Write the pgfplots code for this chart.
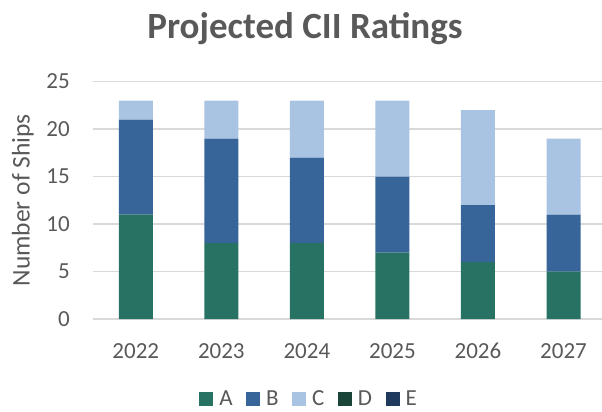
\documentclass[border=0pt]{standalone}
\usepackage{fontspec}
\setmainfont{Carlito}
\usepackage{pgfplots}
\pgfplotsset{compat=1.18}
\definecolor{cA}{HTML}{277263}
\definecolor{cB}{HTML}{376499}
\definecolor{cC}{HTML}{A9C3E3}
\definecolor{cD}{HTML}{1B4438}
\definecolor{cE}{HTML}{203A5E}
\definecolor{txt}{HTML}{595959}
\definecolor{grd}{HTML}{D9D9D9}
\begin{document}
\begin{tikzpicture}
\useasboundingbox (0pt,0pt) rectangle (602pt,-412pt);
\node[anchor=base, text=txt, font=\fontsize{37}{40}\selectfont\bfseries, inner sep=0pt] at (305pt,-39pt) {Projected CII Ratings};
\begin{axis}[
  at={(93pt,-319pt)}, anchor=south west,
  scale only axis, width=509pt, height=237.5pt,
  ybar stacked, bar width=34pt,
  xmin=-0.5, xmax=5.45, ymin=0, ymax=25,
  xtick=data, xticklabels={2022,2023,2024,2025,2026,2027},
  ytick={0,5,10,15,20,25},
  ymajorgrids, grid style={draw=grd, line width=1.3pt},
  axis line style={draw=none},
  major tick length=0pt,
  /pgf/number format/assume math mode=true,
  tick label style={font=\fontsize{23}{23}\selectfont, text=txt, inner sep=0pt},
  yticklabel shift=23pt,
  xticklabel shift=24pt,
  ylabel={Number of Ships},
  ylabel style={font=\fontsize{25.5}{26}\selectfont, text=txt, at={(axis description cs:-0.1381,0.5)}, anchor=center, inner sep=0pt},
  legend columns=-1,
  legend image code/.code={\fill[#1] (0pt,-7pt) rectangle (14pt,7pt);},
  legend style={draw=none, fill=none, at={(0.4224,-0.3368)}, anchor=center,
    font=\fontsize{23}{23}\selectfont, text=txt, inner sep=0pt,
    nodes={inner sep=0pt},
    /tikz/every odd column/.append style={column sep=6pt},
    /tikz/every even column/.append style={column sep=13.5pt}},
]
\addplot[fill=cA, draw=none] coordinates {(0,11) (1,8) (2,8) (3,7) (4,6) (5,5)};
\addplot[fill=cB, draw=none] coordinates {(0,10) (1,11) (2,9) (3,8) (4,6) (5,6)};
\addplot[fill=cC, draw=none] coordinates {(0,2) (1,4) (2,6) (3,8) (4,10) (5,8)};
\addplot[fill=cD, draw=none] coordinates {(0,0) (1,0) (2,0) (3,0) (4,0) (5,0)};
\addplot[fill=cE, draw=none] coordinates {(0,0) (1,0) (2,0) (3,0) (4,0) (5,0)};
\legend{A,B,C,D,E}
\end{axis}
\end{tikzpicture}
\end{document}
